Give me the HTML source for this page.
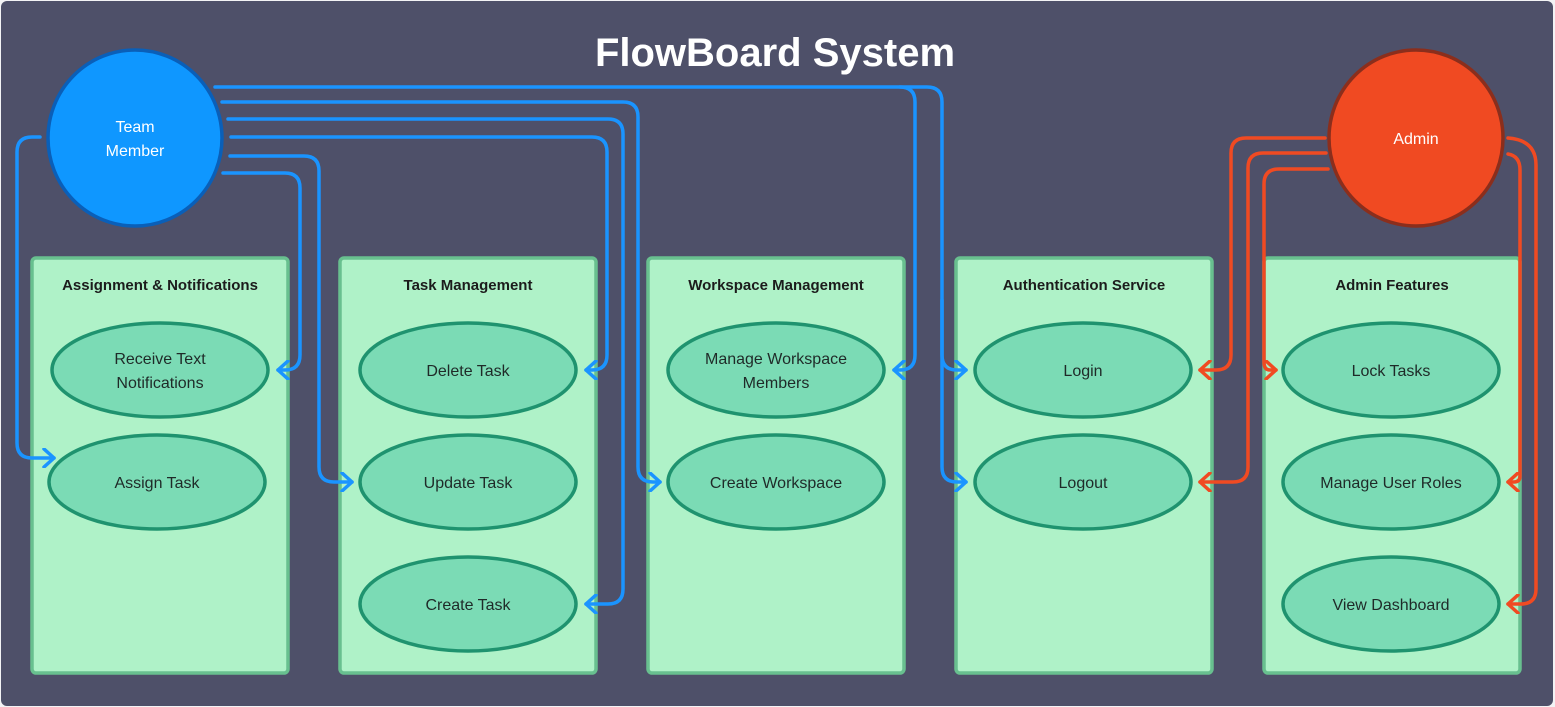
<!DOCTYPE html>
<html><head><meta charset="utf-8"><style>
html,body{margin:0;padding:0;background:#f3f3f5;}
svg{display:block}
text{font-family:"Liberation Sans",sans-serif;}
</style></head><body>
<svg width="1555" height="707" viewBox="0 0 1555 707" xmlns="http://www.w3.org/2000/svg">
<defs>
<marker id="ab" markerWidth="16" markerHeight="20" refX="12" refY="10" orient="auto" markerUnits="userSpaceOnUse">
<path d="M2,1 L12,10 L2,19" fill="none" stroke="#1a94ff" stroke-width="3.5" stroke-linecap="round" stroke-linejoin="round"/></marker>
<marker id="ar" markerWidth="16" markerHeight="20" refX="12" refY="10" orient="auto" markerUnits="userSpaceOnUse">
<path d="M2,1 L12,10 L2,19" fill="none" stroke="#f04a22" stroke-width="3.5" stroke-linecap="round" stroke-linejoin="round"/></marker>
</defs>
<rect x="1" y="1" width="1552" height="705" rx="6" fill="#4e5069"/>
<text x="775" y="66" text-anchor="middle" font-size="40" font-weight="bold" fill="#ffffff">FlowBoard System</text>

<g fill="#aff2c8" stroke="#68c08f" stroke-width="3.5">
<rect x="32" y="258" width="256" height="415" rx="4"/>
<rect x="340" y="258" width="256" height="415" rx="4"/>
<rect x="648" y="258" width="256" height="415" rx="4"/>
<rect x="956" y="258" width="256" height="415" rx="4"/>
<rect x="1264" y="258" width="256" height="415" rx="4"/>
</g>
<g font-size="15" font-weight="bold" fill="#1c1c1c" text-anchor="middle">
<text x="160" y="290">Assignment &amp; Notifications</text>
<text x="468" y="290">Task Management</text>
<text x="776" y="290">Workspace Management</text>
<text x="1084" y="290">Authentication Service</text>
<text x="1392" y="290">Admin Features</text>
</g>

<g fill="#7bdbb5" stroke="#1f936f" stroke-width="3.5">
<ellipse cx="160" cy="370" rx="108" ry="47"/>
<ellipse cx="157" cy="482" rx="108" ry="47"/>
<ellipse cx="468" cy="370" rx="108" ry="47"/>
<ellipse cx="468" cy="482" rx="108" ry="47"/>
<ellipse cx="468" cy="604" rx="108" ry="47"/>
<ellipse cx="776" cy="370" rx="108" ry="47"/>
<ellipse cx="776" cy="482" rx="108" ry="47"/>
<ellipse cx="1083" cy="370" rx="108" ry="47"/>
<ellipse cx="1083" cy="482" rx="108" ry="47"/>
<ellipse cx="1391" cy="370" rx="108" ry="47"/>
<ellipse cx="1391" cy="482" rx="108" ry="47"/>
<ellipse cx="1391" cy="604" rx="108" ry="47"/>
</g>
<g font-size="16" fill="#1f2a28" text-anchor="middle">
<text x="160" y="364">Receive Text</text><text x="160" y="388">Notifications</text>
<text x="157" y="488">Assign Task</text>
<text x="468" y="376">Delete Task</text>
<text x="468" y="488">Update Task</text>
<text x="468" y="610">Create Task</text>
<text x="776" y="364">Manage Workspace</text><text x="776" y="388">Members</text>
<text x="776" y="488">Create Workspace</text>
<text x="1083" y="376">Login</text>
<text x="1083" y="488">Logout</text>
<text x="1391" y="376">Lock Tasks</text>
<text x="1391" y="488">Manage User Roles</text>
<text x="1391" y="610">View Dashboard</text>
</g>

<g fill="none" stroke="#1a94ff" stroke-width="3.5" stroke-linecap="round">
<path d="M215,87 H927 Q942,87 942,102 V355 Q942,370 957,370 H966" marker-end="url(#ab)"/>
<path d="M942,300 V467 Q942,482 957,482 H966" marker-end="url(#ab)"/>
<path d="M900,87 Q915,87 915,102 V355 Q915,370 900,370 H894" marker-end="url(#ab)"/>
<path d="M222,102 H623 Q638,102 638,117 V467 Q638,482 653,482 H660" marker-end="url(#ab)"/>
<path d="M228,119 H608 Q623,119 623,134 V589 Q623,604 608,604 H586" marker-end="url(#ab)"/>
<path d="M231,137 H592 Q607,137 607,152 V355 Q607,370 592,370 H586" marker-end="url(#ab)"/>
<path d="M230,156 H304 Q319,156 319,171 V467 Q319,482 334,482 H352" marker-end="url(#ab)"/>
<path d="M223,173 H285 Q300,173 300,188 V355 Q300,370 285,370 H278" marker-end="url(#ab)"/>
<path d="M40,137 H32 Q17,137 17,152 V443 Q17,458 32,458 H54" marker-end="url(#ab)"/>
</g>
<g fill="none" stroke="#f04a22" stroke-width="3.5" stroke-linecap="round">
<path d="M1325,138 H1246 Q1231,138 1231,153 V355 Q1231,370 1216,370 H1200" marker-end="url(#ar)"/>
<path d="M1326,153 H1263 Q1248,153 1248,168 V467 Q1248,482 1233,482 H1200" marker-end="url(#ar)"/>
<path d="M1328,169 H1279 Q1264,169 1264,184 V362 Q1264,370 1270,370 H1276" marker-end="url(#ar)"/>
<path d="M1508,138 Q1536,140 1536,165 V589 Q1536,604 1521,604 H1508" marker-end="url(#ar)"/>
<path d="M1508,154 Q1520,156 1520,170 V476 Q1520,482 1514,482 H1508" marker-end="url(#ar)"/>
</g>

<ellipse cx="135" cy="138" rx="87" ry="88" fill="#0f97ff" stroke="#0a5fb8" stroke-width="3.5"/>
<text x="135" y="132" text-anchor="middle" font-size="16" fill="#ffffff">Team</text>
<text x="135" y="156" text-anchor="middle" font-size="16" fill="#ffffff">Member</text>
<ellipse cx="1416" cy="138" rx="87" ry="88" fill="#f04a22" stroke="#8b2e1c" stroke-width="3.5"/>
<text x="1416" y="144" text-anchor="middle" font-size="16" fill="#ffffff">Admin</text>
</svg>
</body></html>
